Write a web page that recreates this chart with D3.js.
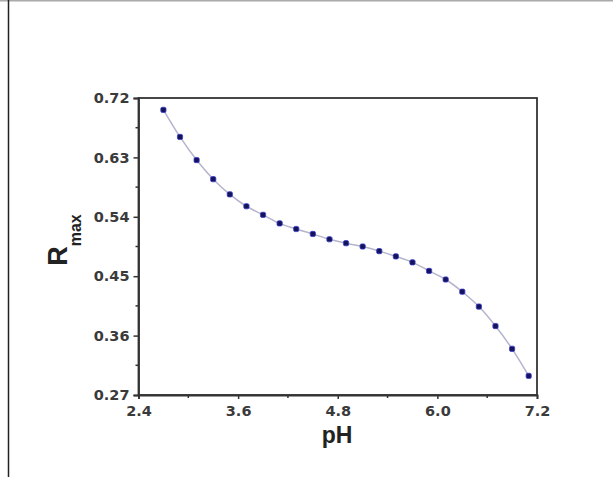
<!DOCTYPE html>
<html>
<head>
<meta charset="utf-8">
<script src="https://cdn.jsdelivr.net/npm/d3@7"></script>
<style>
  body { margin: 0; background: #fff; }
  text { font-family: "Liberation Sans", Arial, sans-serif; }
</style>
</head>
<body>
<div id="chart"></div>
<script>
// data
var phValues = [2.7, 2.9, 3.1, 3.3, 3.5, 3.7, 3.9, 4.1, 4.3, 4.5, 4.7, 4.9,
                5.1, 5.3, 5.5, 5.7, 5.9, 6.1, 6.3, 6.5, 6.7, 6.9, 7.1];
var rmaxValues = [0.702, 0.661, 0.626, 0.597, 0.574, 0.556, 0.543, 0.530, 0.5215, 0.514, 0.506, 0.500,
                  0.495, 0.488, 0.480, 0.471, 0.458, 0.445, 0.4265, 0.404, 0.3745, 0.340, 0.299];
var xTicks = [2.4, 3.6, 4.8, 6.0, 7.2];
var xMinor = [3.0, 4.2, 5.4, 6.6];
var yTicks = [0.27, 0.36, 0.45, 0.54, 0.63, 0.72];
var yMinor = [0.315, 0.405, 0.495, 0.585, 0.675];

var svgWidth = 613;
var svgHeight = 477;
var margin = { top: 98, right: 76, bottom: 82, left: 138.5 };
var width = 537 - margin.left;
var height = 395 - margin.top;

var svg = d3.select("#chart")
  .append("svg")
  .attr("width", svgWidth)
  .attr("height", svgHeight);

// page border (top and left only, as in the scan)
svg.append("line").attr("x1", 0).attr("x2", svgWidth).attr("y1", 0.5).attr("y2", 0.5)
  .attr("stroke", "#aaa").attr("stroke-width", 2);
svg.append("line").attr("x1", 8.5).attr("x2", 8.5).attr("y1", 0).attr("y2", svgHeight)
  .attr("stroke", "#222").attr("stroke-width", 1.5);

var chartGroup = svg.append("g")
  .attr("transform", `translate(${margin.left}, ${margin.top})`);

var x = d3.scaleLinear().domain([2.4, 7.2]).range([0, width]);
var y = d3.scaleLinear().domain([0.27, 0.72]).range([height, 0]);

var data = phValues.map((p, i) => ({ ph: p, r: rmaxValues[i] }));

// frame
chartGroup.append("rect")
  .attr("width", width).attr("height", height)
  .attr("fill", "none").attr("stroke", "#333").attr("stroke-width", 1.8);

// axes
var bottomAxis = d3.axisBottom(x).tickValues(xTicks).tickFormat(d3.format(".1f")).tickSize(4).tickPadding(7);
var leftAxis = d3.axisLeft(y).tickValues(yTicks).tickFormat(d3.format(".2f")).tickSize(5).tickPadding(4);

var xg = chartGroup.append("g").attr("transform", `translate(0, ${height})`).call(bottomAxis);
var yg = chartGroup.append("g").call(leftAxis);

[xg, yg].forEach(g => {
  g.attr("font-size", 14.5).attr("font-family", "DejaVu Sans");
  g.select(".domain").attr("stroke", "#333").attr("stroke-width", 1.8);
  g.selectAll(".tick line").attr("stroke", "#333").attr("stroke-width", 1.5);
  g.selectAll(".tick text")
    .attr("fill", "#3a3a3a")
    .style("font-family", "'DejaVu Sans', sans-serif")
    .style("font-size", "14.5px")
    .style("font-weight", "bold");
});

// minor ticks
chartGroup.selectAll(".xminor").data(xMinor).enter().append("line")
  .attr("x1", d => x(d)).attr("x2", d => x(d))
  .attr("y1", height).attr("y2", height + 3)
  .attr("stroke", "#333").attr("stroke-width", 1.5);
chartGroup.selectAll(".yminor").data(yMinor).enter().append("line")
  .attr("x1", 0).attr("x2", -3)
  .attr("y1", d => y(d)).attr("y2", d => y(d))
  .attr("stroke", "#333").attr("stroke-width", 1.5);

// fitted curve
var line = d3.line().x(d => x(d.ph)).y(d => y(d.r)).curve(d3.curveCatmullRom);
chartGroup.append("path")
  .datum(data)
  .attr("d", line)
  .attr("fill", "none")
  .attr("stroke", "#b4b4cc")
  .attr("stroke-width", 1.5);

// points
chartGroup.selectAll("rect.pt")
  .data(data)
  .enter()
  .append("rect")
  .attr("class", "pt")
  .attr("x", d => x(d.ph) - 2.6)
  .attr("y", d => y(d.r) - 2.6)
  .attr("width", 5.2)
  .attr("height", 5.2)
  .attr("rx", 1.5)
  .attr("fill", "#14145a")
  .attr("stroke", "#3a3acf")
  .attr("stroke-width", 0.8);

// axis titles
var yTitle = svg.append("text")
  .attr("transform", "translate(67, 240) rotate(-90)")
  .attr("text-anchor", "middle")
  .attr("fill", "#222")
  .style("font-weight", "bold");
yTitle.append("tspan").style("font-size", "27px").text("R");
yTitle.append("tspan").style("font-size", "16px").attr("dy", 14).text("max");

svg.append("text")
  .attr("x", 337)
  .attr("y", 443)
  .attr("text-anchor", "middle")
  .attr("fill", "#222")
  .style("font-size", "23px")
  .style("font-weight", "bold")
  .text("pH");
</script>
</body>
</html>
